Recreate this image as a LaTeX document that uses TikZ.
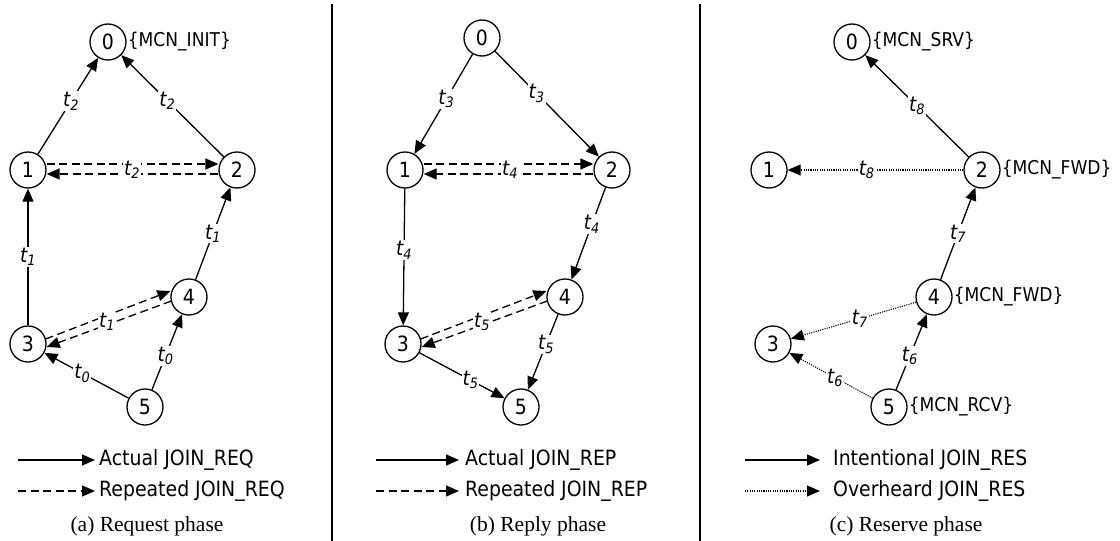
\documentclass[tikz,border=0pt]{standalone}
\usepackage{fontspec}
\setmainfont{DejaVu Sans Condensed}
\newfontfamily\capfont{Liberation Serif}
\usetikzlibrary{arrows.meta}
\begin{document}
\begin{tikzpicture}[x=1pt,y=-1pt,
  every node/.style={font=\fontsize{21}{24}\selectfont},
  vtx/.style={circle,draw,line width=1.3pt,minimum size=36pt,inner sep=0pt},
  conn/.style={line width=1.3pt,-{Triangle[length=13pt,width=11pt]}},
  rep/.style={conn,dash pattern=on 8pt off 4.5pt},
  ovh/.style={conn,line width=1.1pt,dash pattern=on 1.1pt off 1.2pt},
  lbl/.style={fill=white,inner sep=1pt,font=\fontsize{20.5}{24}\selectfont\itshape},
  tag/.style={anchor=west,inner sep=0pt,font=\fontsize{19}{22}\selectfont},
  legtxt/.style={anchor=west,inner sep=0pt},
  captxt/.style={font=\fontsize{21.5}{24}\selectfont\capfont},
  sep/.style={line width=1.6pt}]
\useasboundingbox (0,0) rectangle (1120,541);
\newcommand{\tl}[1]{t\textsubscript{#1}}
% separators
\coordinate (s1t) at (332,4); \coordinate (s1b) at (332,541);
\coordinate (s2t) at (700,4); \coordinate (s2b) at (700,541);
\draw[sep] (s1t) -- (s1b);
\draw[sep] (s2t) -- (s2b);
% ---------------- panel a
\node[vtx] (a0) at (108,42) {0};
\node[vtx] (a1) at (28,170) {1};
\node[vtx] (a2) at (237,170) {2};
\node[vtx] (a3) at (28,344) {3};
\node[vtx] (a4) at (189,297) {4};
\node[vtx] (a5) at (145,407) {5};
\node[tag] (a0t) at ([xshift=1pt]a0.east) {\{MCN\_INIT\}};
\draw[conn] (a1) -- node[lbl,pos=0.55] {\tl{2}} (a0);
\draw[conn] (a2) -- node[lbl,pos=0.55] {\tl{2}} (a0);
\draw[rep] ([yshift=6pt]a1.east) -- ([yshift=6pt]a2.west);
\draw[rep] ([yshift=-4pt]a2.west) -- ([yshift=-4pt]a1.east);
\node[lbl] (a12l) at (132,170) {\tl{2}};
\draw[conn] (a3) -- node[lbl] {\tl{1}} (a1);
\draw[conn] (a4) -- node[lbl,pos=0.5] {\tl{1}} (a2);
\draw[rep] ([shift={(-1pt,5pt)}]a3.east) -- ([shift={(0pt,6pt)}]a4.west);
\draw[rep] ([shift={(1pt,-4pt)}]a4.west) -- ([shift={(0pt,-3pt)}]a3.east);
\node[lbl] (a34l) at (107,322) {\tl{1}};
\draw[conn] (a5) -- node[lbl,pos=0.55] {\tl{0}} (a3);
\draw[conn] (a5) -- node[lbl,pos=0.45] {\tl{0}} (a4);
% legend a
\coordinate (la1s) at (18,460); \coordinate (la1e) at (95,460);
\coordinate (la2s) at (18,491); \coordinate (la2e) at (95,491);
\draw[conn] (la1s) -- (la1e);
\draw[rep] (la2s) -- (la2e);
\node[legtxt] (la1t) at (99,460) {Actual JOIN\_REQ};
\node[legtxt] (la2t) at (99,491) {Repeated JOIN\_REQ};
\node[captxt] (capa) at (147,526) {(a) Request phase};
% ---------------- panel b
\node[vtx] (b0) at (482,38) {0};
\node[vtx] (b1) at (405,170) {1};
\node[vtx] (b2) at (612,170) {2};
\node[vtx] (b3) at (403,344) {3};
\node[vtx] (b4) at (565,297) {4};
\node[vtx] (b5) at (521,407) {5};
\draw[conn] (b0) -- node[lbl,pos=0.45] {\tl{3}} (b1);
\draw[conn] (b0) -- node[lbl,pos=0.4] {\tl{3}} (b2);
\draw[rep] ([yshift=6pt]b1.east) -- ([yshift=6pt]b2.west);
\draw[rep] ([yshift=-4pt]b2.west) -- ([yshift=-4pt]b1.east);
\node[lbl] (b12l) at (510,170) {\tl{4}};
\draw[conn] (b1) -- node[lbl,pos=0.45] {\tl{4}} (b3);
\draw[conn] (b2) -- node[lbl,pos=0.4] {\tl{4}} (b4);
\draw[rep] ([shift={(-1pt,5pt)}]b3.east) -- ([shift={(0pt,6pt)}]b4.west);
\draw[rep] ([shift={(1pt,-4pt)}]b4.west) -- ([shift={(0pt,-3pt)}]b3.east);
\node[lbl] (b34l) at (482,322) {\tl{5}};
\draw[conn] (b3) -- node[lbl,pos=0.6] {\tl{5}} (b5);
\draw[conn] (b4) -- node[lbl,pos=0.4] {\tl{5}} (b5);
% legend b
\coordinate (lb1s) at (376,460); \coordinate (lb1e) at (459,460);
\coordinate (lb2s) at (376,491); \coordinate (lb2e) at (459,491);
\draw[conn] (lb1s) -- (lb1e);
\draw[rep] (lb2s) -- (lb2e);
\node[legtxt] (lb1t) at (465,460) {Actual JOIN\_REP};
\node[legtxt] (lb2t) at (465,491) {Repeated JOIN\_REP};
\node[captxt] (capb) at (538,526) {(b) Reply phase};
% ---------------- panel c
\node[vtx] (c0) at (852,42) {0};
\node[vtx] (c1) at (769,170) {1};
\node[vtx] (c2) at (982,170) {2};
\node[vtx] (c3) at (773,344) {3};
\node[vtx] (c4) at (934,297) {4};
\node[vtx] (c5) at (889,407) {5};
\node[tag] (c0t) at ([xshift=1pt]c0.east) {\{MCN\_SRV\}};
\node[tag] (c2t) at ([xshift=1pt]c2.east) {\{MCN\_FWD\}};
\node[tag] (c4t) at ([xshift=1pt]c4.east) {\{MCN\_FWD\}};
\node[tag] (c5t) at ([xshift=1pt]c5.east) {\{MCN\_RCV\}};
\draw[conn] (c2) -- node[lbl,pos=0.5] {\tl{8}} (c0);
\draw[ovh] (c2) -- node[lbl,pos=0.55] {\tl{8}} (c1);
\draw[conn] (c4) -- node[lbl,pos=0.5] {\tl{7}} (c2);
\draw[ovh] (c4) -- node[lbl,pos=0.45] {\tl{7}} (c3);
\draw[conn] (c5) -- node[lbl,pos=0.45] {\tl{6}} (c4);
\draw[ovh] (c5) -- node[lbl,pos=0.45] {\tl{6}} (c3);
% legend c
\coordinate (lc1s) at (745,460); \coordinate (lc1e) at (820,460);
\coordinate (lc2s) at (745,491); \coordinate (lc2e) at (820,491);
\draw[conn] (lc1s) -- (lc1e);
\draw[ovh] (lc2s) -- (lc2e);
\node[legtxt] (lc1t) at (833,460) {Intentional JOIN\_RES};
\node[legtxt] (lc2t) at (833,491) {Overheard JOIN\_RES};
\node[captxt] (capc) at (906,526) {(c) Reserve phase};
\end{tikzpicture}
\end{document}
